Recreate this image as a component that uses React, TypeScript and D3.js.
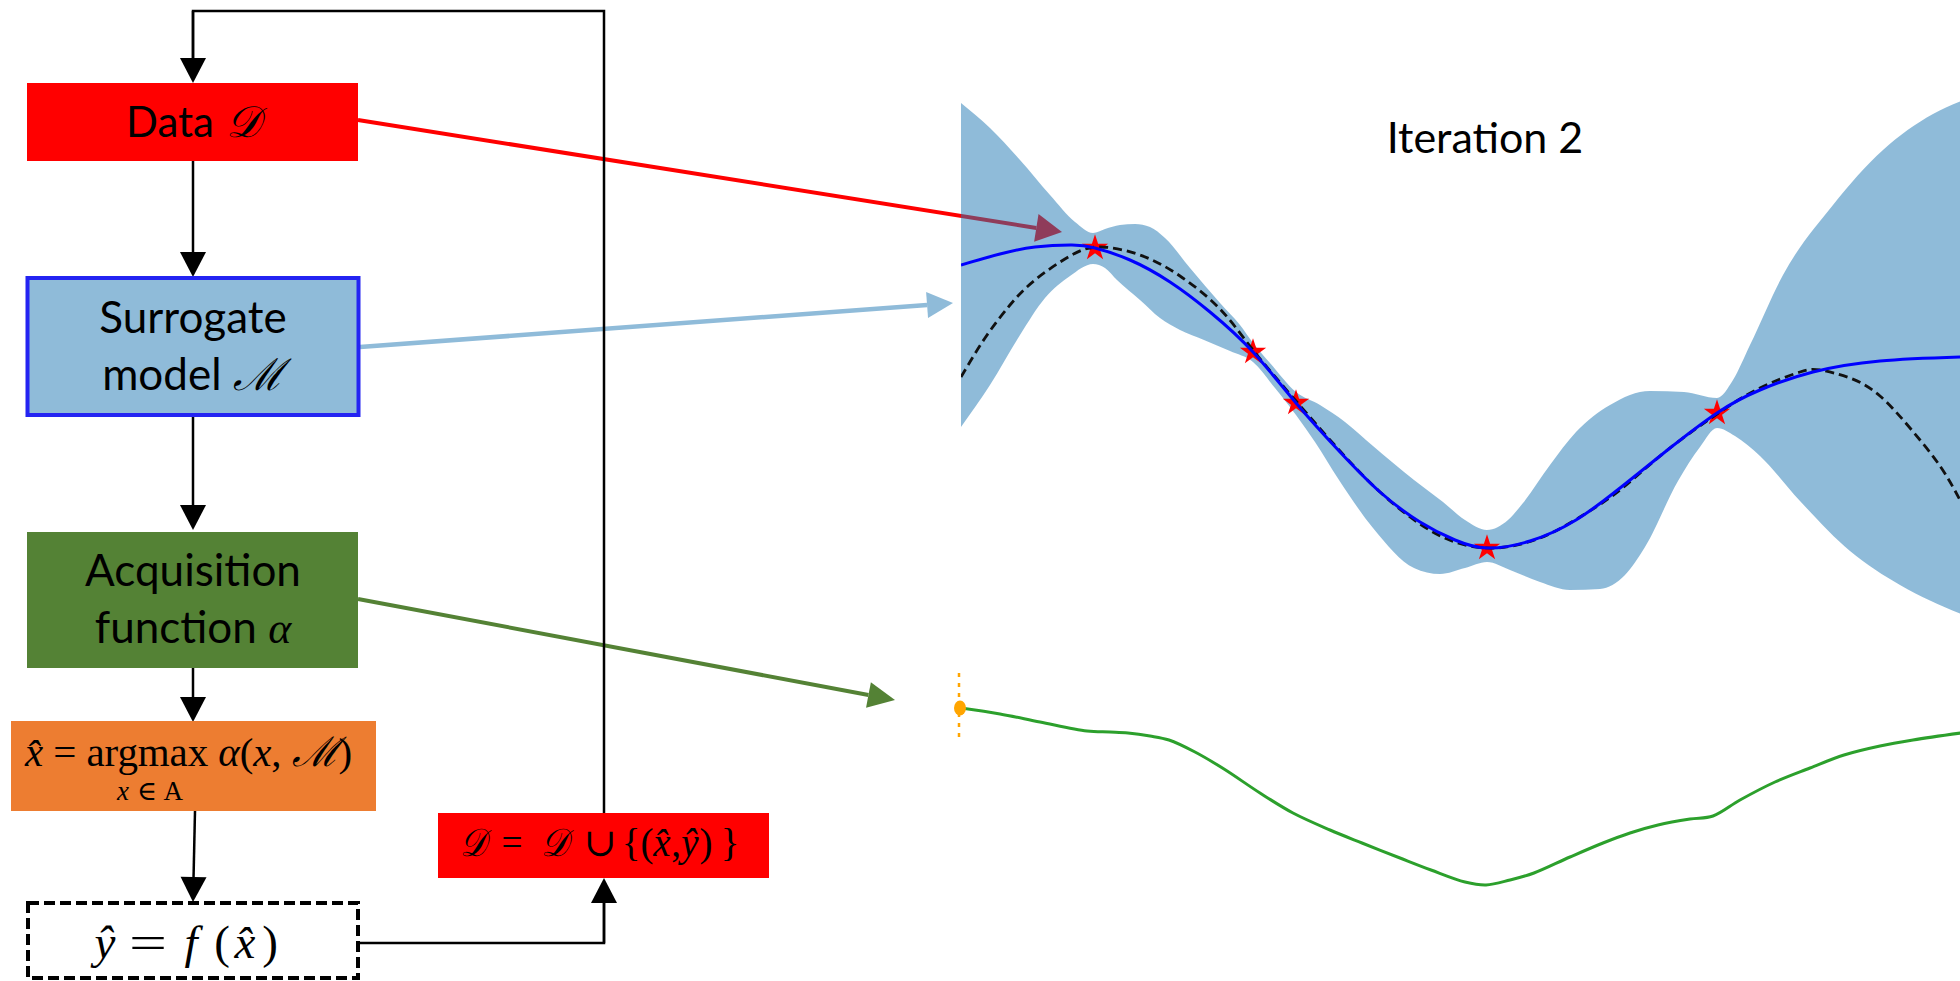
import React from "react";
import * as d3 from "d3";

// ---------- Surrogate model (iteration 2) ----------
// Each series is a list of [x, y] samples; x in [0, 10].
const posteriorMean: [number, number][] = [
  [0, 1.35], [0.39, 1.46], [0.74, 1.53], [1.11, 1.55], [1.34, 1.52], [1.69, 1.4],
  [2.09, 1.18], [2.49, 0.88], [2.92, 0.48], [3.35, -0.03], [3.79, -0.52], [4.19, -0.92],
  [4.59, -1.22], [4.94, -1.4], [5.26, -1.48], [5.69, -1.41], [6.15, -1.2], [6.59, -0.88],
  [7.04, -0.52], [7.56, -0.13], [7.99, 0.1], [8.52, 0.28], [9.19, 0.39], [10, 0.43],
];

const objective: [number, number][] = [
  [0, 0.23], [0.24, 0.62], [0.49, 0.95], [0.74, 1.2], [1.09, 1.44], [1.39, 1.53],
  [1.79, 1.45], [2.19, 1.24], [2.59, 0.91], [2.92, 0.5], [3.35, -0.01], [3.79, -0.51],
  [4.19, -0.92], [4.59, -1.24], [4.94, -1.42], [5.34, -1.48], [5.79, -1.38], [6.19, -1.17],
  [6.59, -0.9], [7.04, -0.52], [7.56, -0.14], [7.99, 0.12], [8.39, 0.28], [8.59, 0.3],
  [8.89, 0.22], [9.19, 0.04], [9.49, -0.28], [9.79, -0.66], [10, -1.02],
];

const bandUpper: [number, number][] = [
  [0, 2.97], [0.29, 2.72], [0.59, 2.4], [0.89, 2.05], [1.14, 1.78], [1.32, 1.67],
  [1.44, 1.71], [1.59, 1.75], [1.74, 1.76], [1.89, 1.73], [2.04, 1.62], [2.29, 1.32],
  [2.59, 0.97], [2.79, 0.75], [2.92, 0.57], [3.09, 0.37], [3.35, 0.08], [3.59, -0.05],
  [3.84, -0.22], [4.12, -0.46], [4.53, -0.8], [4.82, -1.02], [5.04, -1.2], [5.26, -1.3],
  [5.47, -1.2], [5.62, -1.03], [5.89, -0.65], [6.15, -0.32], [6.49, -0.05], [6.89, 0.09],
  [7.23, 0.08], [7.56, 0.02], [7.72, 0.2], [7.89, 0.55], [8.22, 1.25], [8.72, 1.95],
  [9.22, 2.5], [9.72, 2.86], [10, 2.99],
];

const bandLower: [number, number][] = [
  [0, -0.27], [0.29, 0.15], [0.59, 0.65], [0.84, 1.02], [1.09, 1.24], [1.32, 1.36],
  [1.44, 1.32], [1.56, 1.2], [1.79, 1.0], [1.99, 0.82], [2.19, 0.7], [2.43, 0.6],
  [2.69, 0.49], [2.92, 0.38], [3.14, 0.12], [3.35, -0.15], [3.54, -0.42], [3.78, -0.8],
  [4.12, -1.28], [4.53, -1.68], [4.79, -1.74], [5.04, -1.68], [5.26, -1.62], [5.49, -1.7],
  [5.79, -1.82], [6.09, -1.9], [6.39, -1.89], [6.64, -1.75], [6.84, -1.47], [7.17, -0.81],
  [7.39, -0.47], [7.56, -0.28], [7.74, -0.36], [7.99, -0.56], [8.39, -1.01], [8.89, -1.51],
  [9.39, -1.85], [10, -2.14],
];

const observations: [number, number][] = [
  [1.34, 1.52], [2.92, 0.48], [3.35, -0.03], [5.26, -1.48], [7.56, -0.13],
];

// ---------- Acquisition function ----------
const acquisition: [number, number][] = [
  [0, 0.96], [0.39, 0.93], [0.79, 0.89], [1.26, 0.845], [1.49, 0.84], [1.67, 0.835],
  [1.89, 0.82], [2.08, 0.8], [2.34, 0.74], [2.63, 0.655], [2.99, 0.535], [3.32, 0.435],
  [3.69, 0.35], [4.01, 0.285], [4.39, 0.21], [4.7, 0.15], [5.04, 0.09], [5.25, 0.075],
  [5.49, 0.1], [5.73, 0.135], [6.09, 0.215], [6.42, 0.285], [6.69, 0.335], [6.97, 0.375],
  [7.29, 0.405], [7.52, 0.42], [7.79, 0.5], [8.14, 0.59], [8.49, 0.66], [8.83, 0.725],
  [9.19, 0.77], [9.52, 0.8], [10, 0.835],
];
const nextPointX = 0;
const nextPointGuide: [number, number] = [1.135, 0.8];

const plotTitle = "Iteration 2";

const SANS = "Lato, 'Open Sans', 'Noto Sans', sans-serif";
const MATH = "'Liberation Serif', 'DejaVu Serif', serif";

// Glyph runs for the two update formulas: [text, centre x, italic, squeezed width]
type Glyph = [string, number, boolean, number?];
const evalGlyphs: Glyph[] = [
  ["ŷ", 105, true], ["=", 148, false, 38], ["f", 191, true], ["(", 222, false],
  ["x̂", 245, true], [")", 270, false],
];
const updateGlyphs: Glyph[] = [
  ["𝒟", 473, true, 26], ["=", 512, false, 21], ["𝒟", 554, true, 27], ["∪", 600, false],
  ["{", 631, false], ["(", 647, false], ["x̂", 662, true], [",", 676, false],
  ["ŷ", 690, true], [")", 706, false], ["}", 730, false],
];

// Triangle arrowhead whose tip sits at (x2, y2), pointing from (x1, y1).
function arrowHead(x1: number, y1: number, x2: number, y2: number, len: number, w: number) {
  const a = Math.atan2(y2 - y1, x2 - x1);
  const bx = x2 - len * Math.cos(a);
  const by = y2 - len * Math.sin(a);
  const nx = -Math.sin(a) * (w / 2);
  const ny = Math.cos(a) * (w / 2);
  return {
    base: [bx, by] as [number, number],
    path: `M${x2},${y2}L${bx + nx},${by + ny}L${bx - nx},${by - ny}Z`,
  };
}

function Arrow({ x1, y1, x2, y2, color, width, len, head }: {
  x1: number; y1: number; x2: number; y2: number; color: string; width: number; len: number; head: number;
}) {
  const h = arrowHead(x1, y1, x2, y2, len, head);
  return (
    <g>
      <line x1={x1} y1={y1} x2={h.base[0]} y2={h.base[1]} stroke={color} strokeWidth={width} />
      <path d={h.path} fill={color} />
    </g>
  );
}

function GlyphRun({ glyphs, y, size }: { glyphs: Glyph[]; y: number; size: number }) {
  return (
    <g fontFamily={MATH} fontSize={size} fill="#000">
      {glyphs.map(([t, cx, it, w], i) =>
        w ? (
          <text key={i} x={cx - w / 2} y={y} fontStyle={it ? "italic" : "normal"} textLength={w} lengthAdjust="spacingAndGlyphs">
            {t}
          </text>
        ) : (
          <text key={i} x={cx} y={y} textAnchor="middle" fontStyle={it ? "italic" : "normal"}>
            {t}
          </text>
        )
      )}
    </g>
  );
}

export default function App() {
  const x = d3.scaleLinear().domain([0, 10]).range([961, 1961]);
  const y = d3.scaleLinear().domain([-3, 4]).range([700, 0]);
  const ya = d3.scaleLinear().domain([0, 1]).range([900, 700]);

  const line = d3.line<[number, number]>().x((d) => x(d[0])).y((d) => y(d[1])).curve(d3.curveNatural);
  const acqLine = d3
    .line<[number, number]>()
    .x((d) => x(d[0]))
    .y((d) => ya(d[1]))
    .curve(d3.curveCatmullRom.alpha(0.5));

  // Band = region below the upper bound, clipped to the region above the lower bound.
  const belowUpper = d3
    .area<[number, number]>()
    .x((d) => x(d[0]))
    .y0(981)
    .y1((d) => y(d[1]))
    .curve(d3.curveMonotoneX)(bandUpper) as string;
  const aboveLower = d3
    .area<[number, number]>()
    .x((d) => x(d[0]))
    .y0(0)
    .y1((d) => y(d[1]))
    .curve(d3.curveMonotoneX)(bandLower) as string;

  const star = d3.symbol().type(d3.symbolStar).size(215)() as string;

  const black = "#000";
  const blackW = 2.5;

  return (
    <svg
      width={1960}
      height={981}
      style={{ position: "absolute", left: 0, top: 0, display: "block", background: "#fff" }}
    >
      <defs>
        <clipPath id="plotClip">
          <rect x={x(0)} y={0} width={1000} height={981} />
        </clipPath>
        <clipPath id="lowerClip">
          <path d={aboveLower} />
        </clipPath>
      </defs>

      {/* ---------- Connectors from flowchart to plot (under the band) ---------- */}
      <Arrow x1={358} y1={120} x2={1062} y2={232} color="#FF0000" width={4} len={26} head={28} />
      <Arrow x1={360} y1={347} x2={953} y2={303} color="#8FBBD9" width={4.5} len={26} head={26} />
      <Arrow x1={358} y1={599} x2={895} y2={700} color="#548235" width={4} len={27} head={26} />

      {/* ---------- Surrogate model plot ---------- */}
      <g clipPath="url(#plotClip)">
        <g clipPath="url(#lowerClip)">
          <path d={belowUpper} fill="#1f77b4" fillOpacity={0.5} />
        </g>
        {observations.map((d, i) => (
          <path key={i} d={star} transform={`translate(${x(d[0])},${y(d[1])})`} fill="#FF0000" />
        ))}
        <path d={line(objective) as string} fill="none" stroke="#111" strokeWidth={2.8} strokeDasharray="9 5" />
        <path d={line(posteriorMean) as string} fill="none" stroke="#0000FF" strokeWidth={3} />

        {/* acquisition function */}
        <path d={acqLine(acquisition) as string} fill="none" stroke="#2CA02C" strokeWidth={3} />
      </g>
      <line
        x1={x(nextPointX) - 2}
        x2={x(nextPointX) - 2}
        y1={ya(nextPointGuide[0])}
        y2={ya(nextPointGuide[1])}
        stroke="#FFA500"
        strokeWidth={2.5}
        strokeDasharray="4 6"
      />
      <ellipse cx={x(nextPointX) - 1} cy={ya(acquisition[0][1])} rx={6} ry={7.5} fill="#FFA500" />

      <text x={1485} y={153} textAnchor="middle" fontFamily={SANS} fontSize={43} fill="#000">
        {plotTitle}
      </text>

      {/* ---------- Loop-back line ---------- */}
      <polyline points="604,813 604,11 193,11 193,60" fill="none" stroke={black} strokeWidth={blackW} />
      <Arrow x1={193} y1={11} x2={193} y2={83} color={black} width={blackW} len={25} head={26} />

      {/* Data box */}
      <rect x={27} y={83} width={331} height={78} fill="#FF0000" />
      <text x={126} y={137} fontFamily={SANS} fontSize={42} fill="#000">
        Data
      </text>
      <text x={226} y={137} fontFamily={MATH} fontStyle="italic" fontSize={44} fill="#000" textLength={34} lengthAdjust="spacingAndGlyphs">
        𝒟
      </text>

      <Arrow x1={193} y1={161} x2={193} y2={277} color={black} width={blackW} len={25} head={26} />

      {/* Surrogate box */}
      <rect x={27.5} y={278} width={331} height={137} fill="#8FBBD9" stroke="#2424F2" strokeWidth={4} />
      <text x={193} y={333} textAnchor="middle" fontFamily={SANS} fontSize={44} fill="#000">
        Surrogate
      </text>
      <text x={193} y={390} textAnchor="middle" fontFamily={SANS} fontSize={44} fill="#000">
        model <tspan fontFamily={MATH} fontStyle="italic">ℳ</tspan>
      </text>

      <Arrow x1={193} y1={417} x2={193} y2={530} color={black} width={blackW} len={25} head={26} />

      {/* Acquisition box */}
      <rect x={27} y={532} width={331} height={136} fill="#548235" />
      <text x={193} y={586} textAnchor="middle" fontFamily={SANS} fontSize={44} fill="#000">
        Acquisition
      </text>
      <text x={193} y={643} textAnchor="middle" fontFamily={SANS} fontSize={44} fill="#000">
        function <tspan fontFamily={MATH} fontStyle="italic">α</tspan>
      </text>

      <Arrow x1={193} y1={668} x2={193} y2={722} color={black} width={blackW} len={25} head={26} />

      {/* argmax box */}
      <rect x={11} y={721} width={365} height={90} fill="#ED7D31" />
      <text x={25} y={766} fontFamily={MATH} fontSize={41} fill="#000" textLength={327} lengthAdjust="spacing">
        <tspan fontStyle="italic">x̂</tspan>
        <tspan> = argmax </tspan>
        <tspan fontStyle="italic">α</tspan>
        <tspan>(</tspan>
        <tspan fontStyle="italic">x</tspan>
        <tspan>, </tspan>
        <tspan fontStyle="italic">ℳ</tspan>
        <tspan>)</tspan>
      </text>
      <text x={117} y={800} fontFamily={MATH} fontSize={27} fill="#000" textLength={66} lengthAdjust="spacing">
        <tspan fontStyle="italic">x</tspan>
        <tspan> ∈ A</tspan>
      </text>

      <Arrow x1={195} y1={811} x2={193} y2={902} color={black} width={blackW} len={25} head={26} />

      {/* Evaluation box */}
      <rect x={28} y={903} width={330} height={75} fill="#fff" stroke={black} strokeWidth={4} strokeDasharray="11 5" />
      <GlyphRun glyphs={evalGlyphs} y={958} size={47} />

      <polyline points="360,943 604,943 604,900" fill="none" stroke={black} strokeWidth={blackW} />
      <Arrow x1={604} y1={943} x2={604} y2={878} color={black} width={blackW} len={25} head={26} />

      {/* Data update box */}
      <rect x={438} y={813} width={331} height={65} fill="#FF0000" />
      <GlyphRun glyphs={updateGlyphs} y={856} size={39} />
    </svg>
  );
}
